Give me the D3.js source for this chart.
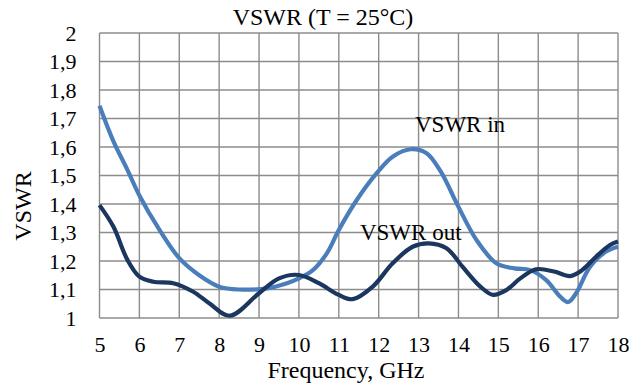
<!DOCTYPE html>
<html>
<head>
<meta charset="utf-8">
<script src="https://cdn.jsdelivr.net/npm/d3@7"></script>
<style>
  body { margin: 0; background: #fff; }
  text { font-family: "Liberation Serif", "DejaVu Serif", serif; fill: #000; }
</style>
</head>
<body>
<svg width="643" height="387"></svg>
<script>
// data
var freqIn  = [5.0, 5.35, 5.7, 6.0, 6.5, 7.0, 7.5, 8.0, 8.5, 9.2, 9.7, 10.0, 10.35, 10.7, 11.0, 11.45, 11.95, 12.35, 12.8, 13.2, 13.55, 14.0, 14.45, 14.95, 15.4, 15.8, 16.2, 16.55, 16.75, 16.95, 17.3, 17.7, 18.0];
var vswrIn  = [1.745, 1.62, 1.52, 1.43, 1.31, 1.21, 1.15, 1.11, 1.10, 1.104, 1.122, 1.139, 1.168, 1.227, 1.309, 1.414, 1.508, 1.566, 1.592, 1.578, 1.515, 1.39, 1.274, 1.192, 1.174, 1.168, 1.133, 1.075, 1.056, 1.087, 1.18, 1.233, 1.25];
var freqOut = [5.0, 5.35, 5.7, 6.0, 6.35, 6.85, 7.35, 7.75, 8.27, 9.0, 9.5, 10.0, 10.5, 11.0, 11.35, 11.85, 12.35, 12.85, 13.25, 13.7, 14.1, 14.55, 14.87, 15.2, 15.55, 15.95, 16.4, 16.8, 17.1, 17.45, 17.8, 18.0];
var vswrOut = [1.396, 1.32, 1.204, 1.145, 1.127, 1.122, 1.092, 1.052, 1.008, 1.087, 1.139, 1.151, 1.122, 1.081, 1.066, 1.11, 1.192, 1.25, 1.262, 1.245, 1.18, 1.11, 1.081, 1.098, 1.139, 1.171, 1.163, 1.147, 1.168, 1.215, 1.256, 1.268];
var xTicks = [5, 6, 7, 8, 9, 10, 11, 12, 13, 14, 15, 16, 17, 18];
var yTicks = [1, 1.1, 1.2, 1.3, 1.4, 1.5, 1.6, 1.7, 1.8, 1.9, 2];

var svg = d3.select("svg"),
    margin = {top: 33, right: 25, bottom: 69, left: 99.5},
    width = 518.5,
    height = 285,
    g = svg.append("g").attr("transform", "translate(" + margin.left + "," + margin.top + ")");

var xScale = d3.scaleLinear().domain([5, 18]).range([0, width]),
    yScale = d3.scaleLinear().domain([1, 2]).range([height, 0]);

// decimal comma on the y labels
var fmt = function(d) { return d3.format(".1~f")(d).replace(".", ","); };

// grid
var grid = g.append("g").attr("class", "grid");
grid.selectAll("line.v").data(xTicks).enter().append("line")
    .attr("class", "v")
    .attr("x1", function(d) { return xScale(d); })
    .attr("x2", function(d) { return xScale(d); })
    .attr("y1", 0).attr("y2", height);
grid.selectAll("line.h").data(yTicks).enter().append("line")
    .attr("class", "h")
    .attr("x1", 0).attr("x2", width)
    .attr("y1", function(d) { return yScale(d); })
    .attr("y2", function(d) { return yScale(d); });
grid.selectAll("line").attr("stroke", "#8c8c8c").attr("stroke-width", 1.4);

// axes (labels only)
var xAxis = g.append("g")
    .attr("transform", "translate(0," + height + ")")
    .call(d3.axisBottom(xScale).tickValues(xTicks).tickSize(0).tickPadding(18).tickFormat(d3.format("d")));
var yAxis = g.append("g")
    .call(d3.axisLeft(yScale).tickValues(yTicks).tickSize(0).tickPadding(23).tickFormat(fmt));
[xAxis, yAxis].forEach(function(a) {
    a.select(".domain").remove();
    a.selectAll("text").style("font-size", "22px").style("font-family", "'Liberation Serif', serif");
});

// lines
var line = d3.line()
    .curve(d3.curveCatmullRom.alpha(0.5))
    .x(function(d) { return xScale(d[0]); })
    .y(function(d) { return yScale(d[1]); });

g.append("path")
    .datum(d3.zip(freqIn, vswrIn))
    .attr("fill", "none")
    .attr("stroke", "#4a7ebb")
    .attr("stroke-width", 4.2)
    .attr("stroke-linejoin", "round")
    .attr("d", line);

g.append("path")
    .datum(d3.zip(freqOut, vswrOut))
    .attr("fill", "none")
    .attr("stroke", "#1b375f")
    .attr("stroke-width", 4.2)
    .attr("stroke-linejoin", "round")
    .attr("d", line);

// series labels
g.append("text").attr("x", xScale(12.91)).attr("y", yScale(1.653))
    .style("font-size", "23px").text("VSWR in");
g.append("text").attr("x", xScale(11.53)).attr("y", yScale(1.274))
    .style("font-size", "23px").text("VSWR out");

// titles
svg.append("text").attr("x", 323).attr("y", 25).attr("text-anchor", "middle")
    .style("font-size", "24px").text("VSWR (T = 25°C)");
svg.append("text").attr("x", 346).attr("y", 378).attr("text-anchor", "middle")
    .style("font-size", "24px").text("Frequency, GHz");
svg.append("text").attr("transform", "translate(31,206)rotate(-90)").attr("text-anchor", "middle")
    .style("font-size", "24px").text("VSWR");
</script>
</body>
</html>
